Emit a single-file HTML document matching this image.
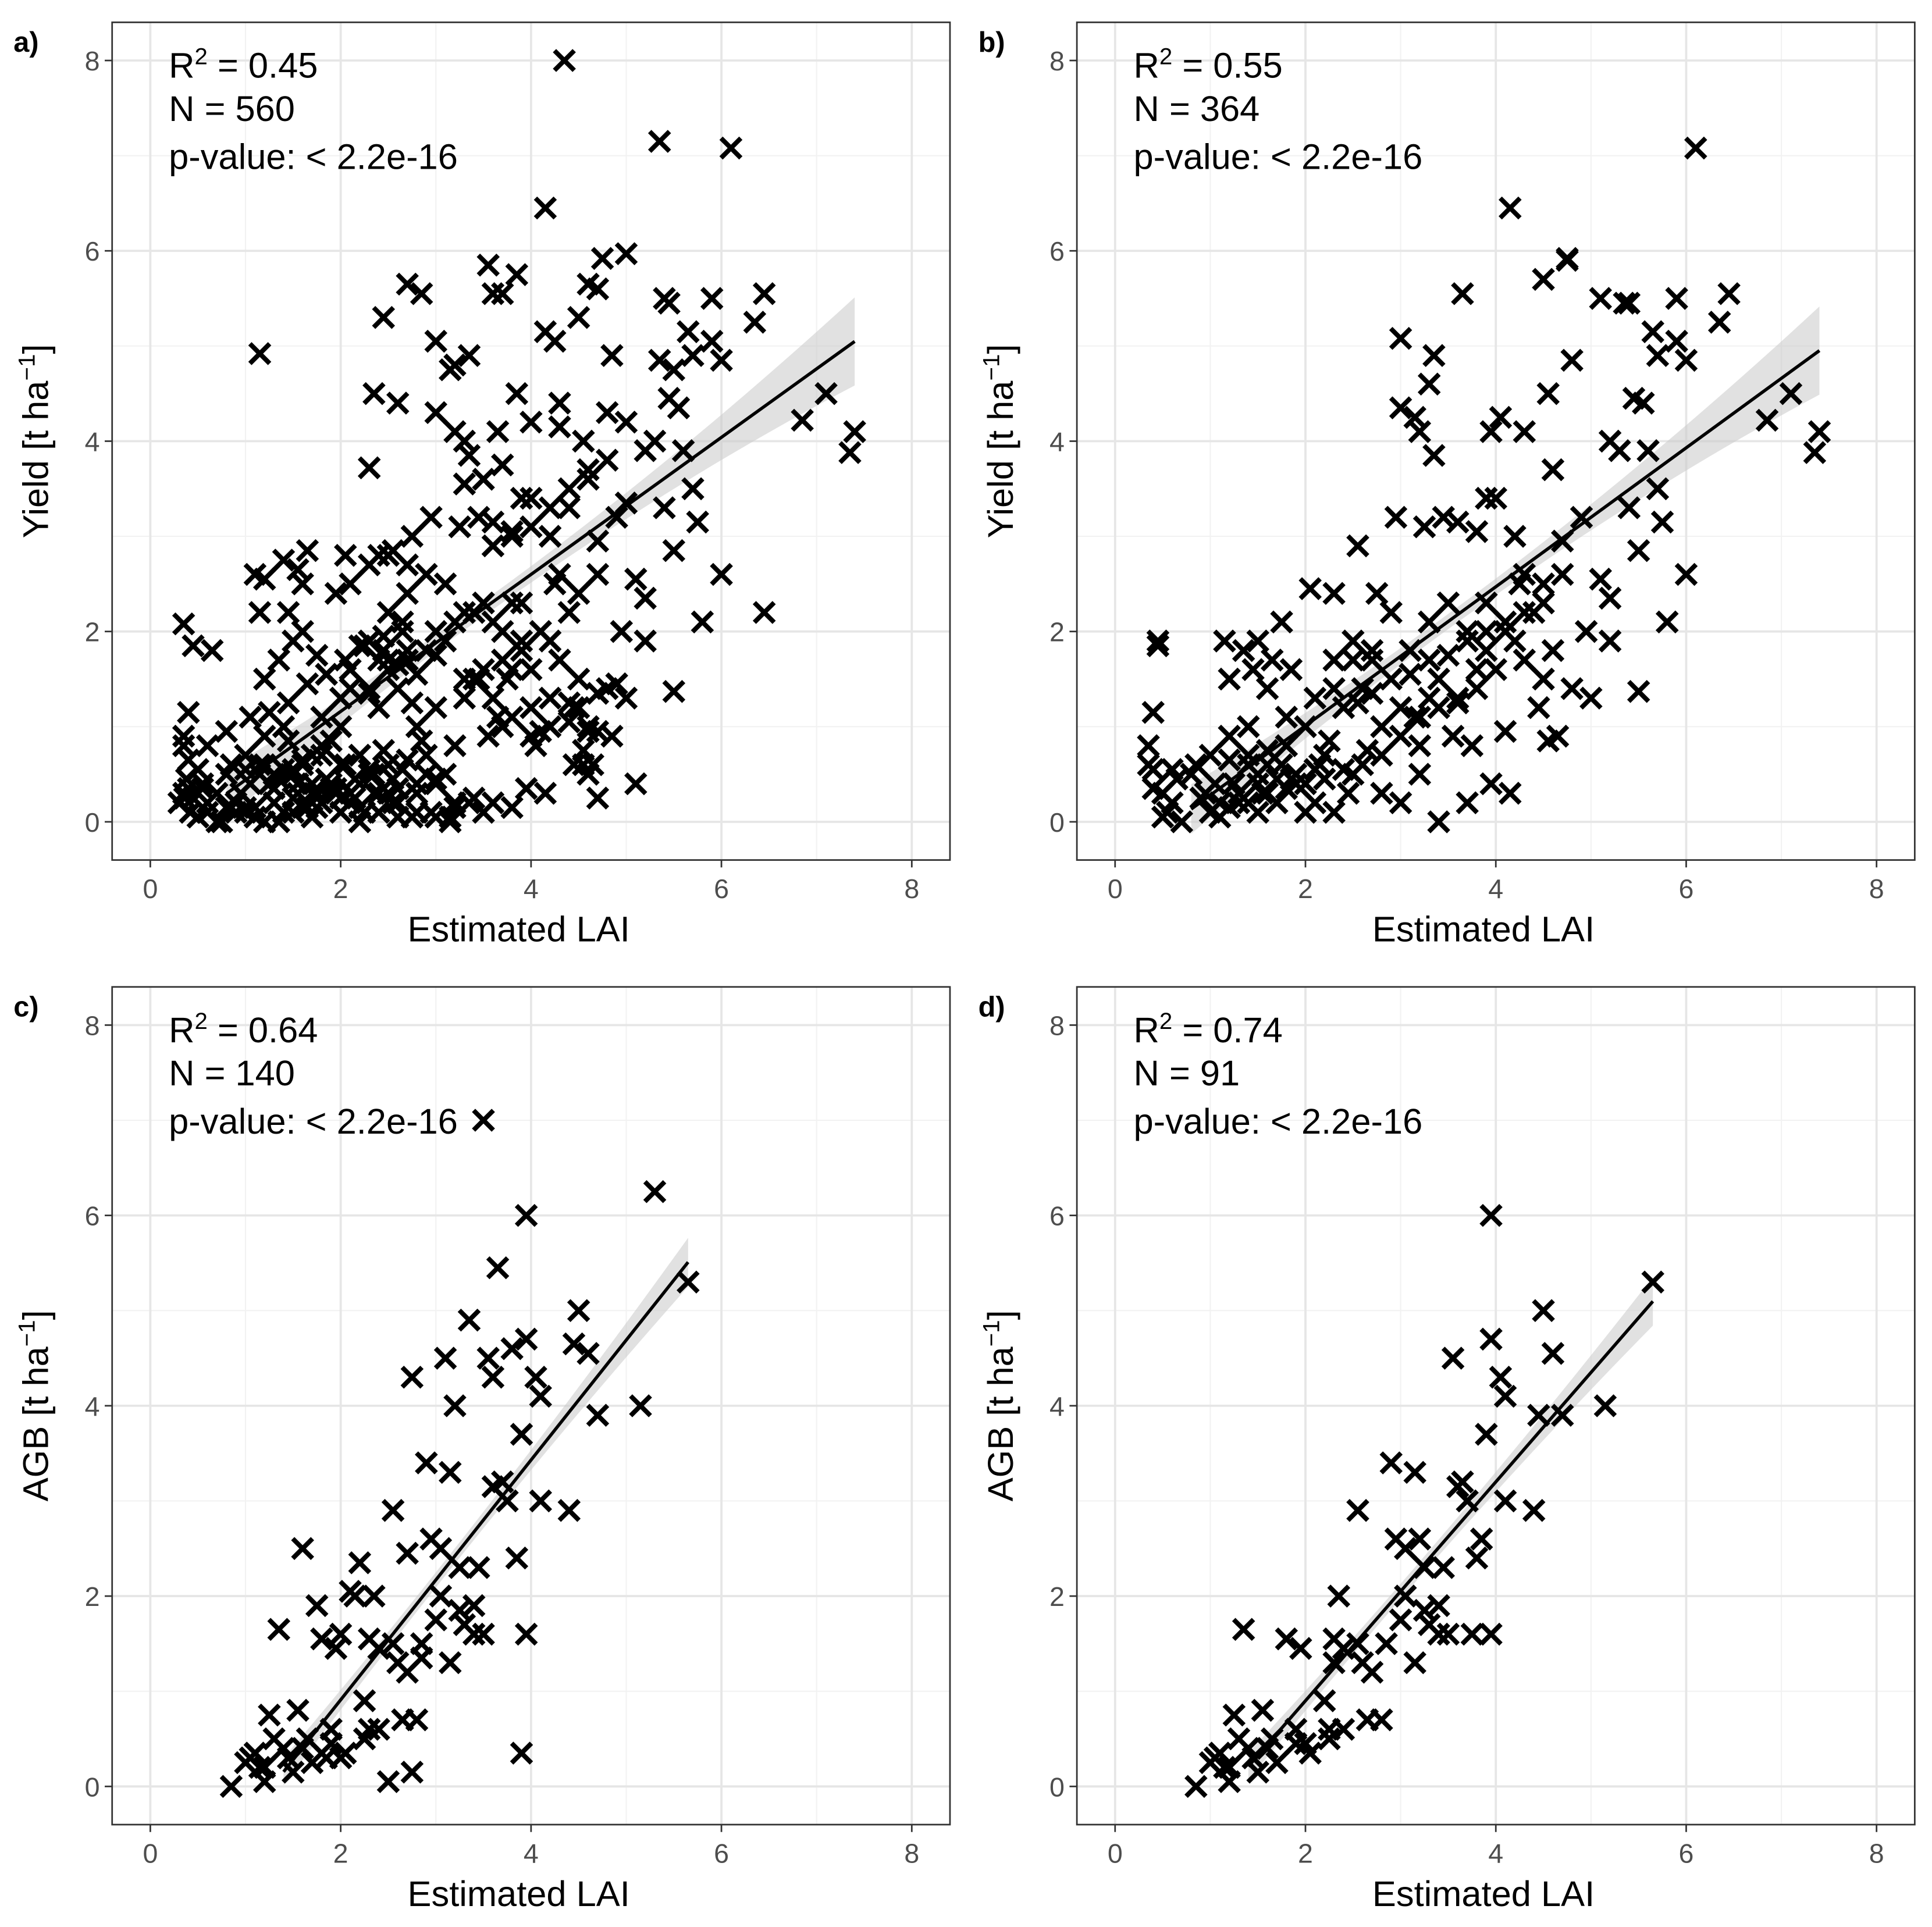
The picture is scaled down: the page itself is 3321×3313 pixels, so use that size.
<!DOCTYPE html>
<html><head><meta charset="utf-8"><style>
html,body{margin:0;padding:0;background:#fff;}
svg{display:block;}
text{font-family:"Liberation Sans",Arial,sans-serif;}
</style></head><body>
<svg id="fig" xmlns="http://www.w3.org/2000/svg" width="3321" height="3313" viewBox="0 0 1568 1564"></svg>
<script>
const xTicks=[0,2,4,6,8];
const yTicks=[0,2,4,6,8];
// Panel a
const aLai=[4.35,5.35,6.1,4.15,1.15,7.1,6.85,7.4,7.35,6.45,6.0,5.8,5.5,4.7,2.3,3.55,3.6,3.7,3.85,2.7,2.85,2.45,3.0,4.75,5.0,4.6,4.7,5.4,5.45,5.9,6.45,6.35,5.9,6.0,5.65,5.7,4.15,4.25,4.5,5.35,5.5,4.85,2.35,2.6,3.15,3.2,3.35,3.0,3.2,3.3,3.35,3.65,3.85,4.0,4.3,4.3,4.55,4.4,4.8,5.0,5.2,5.3,5.6,5.45,5.55,5.7,5.75,5.4,5.5,5.1,5.2,4.9,4.6,4.7,4.5,4.25,4.2,3.9,4.0,3.8,3.6,3.45,3.25,2.95,2.75,2.55,2.4,2.05,1.95,1.65,1.55,1.1,1.2,1.45,1.6,1.15,1.2,1.35,1.5,1.75,1.85,2.1,2.3,2.5,2.7,2.9,3.1,3.3,3.5,3.7,3.9,4.1,4.3,4.5,4.6,4.55,4.1,3.95,3.8,3.5,3.2,3.0,2.8,2.5,2.3,2.1,1.9,1.7,1.5,1.3,1.1,0.95,0.8,0.6,0.5,0.4,0.35,0.4,0.35,0.4,0.45,0.35,0.65,0.3,0.7,1.0,1.2,1.4,1.6,1.8,2.0,2.2,2.4,2.6,2.8,3.0,3.2,3.4,3.6,3.8,4.0,4.2,4.4,4.8,5.0,4.95,5.2,2.2,2.6,1.5,1.7,2.0,1.25,1.0,0.85,2.5,2.7,3.0,3.3,3.9,4.3,4.7,3.7,3.1,2.3,2.0,1.8,0.9,1.05,1.35,1.55,1.65,1.85,2.05,2.15,2.35,2.45,2.65,2.85,0.5,0.6,0.75,0.45,0.55,1.15,1.45,1.75,1.95,2.25,2.55,2.75,3.35,3.55,3.45,3.65,2.9,3.15,4.45,4.65,4.85,4.15,4.05,3.75,2.45,2.65,1.6,1.4,4.45,4.55,4.6,4.7,
0.35,0.38,0.42,0.36,0.55,0.7,0.9,1.1,1.3,1.5,1.7,1.9,2.1,2.3,2.5,2.7,2.9,1.0,1.2,1.4,1.6,1.8,2.0,2.2,2.4,2.6,2.8,3.0,1.15,1.35,1.55,1.75,1.95,2.15,2.35,2.55,2.75,2.95,3.15,0.8,1.0,1.2,1.4,1.6,1.8,2.0,2.2,2.4,2.6,2.8,3.0,3.2,3.4,3.6,3.8,4.0,4.2,4.4,2.1,2.3,2.5,2.7,2.9,3.1,3.3,3.5,3.7,3.9,2.2,2.4,2.6,2.8,3.0,3.2,3.4,3.6,3.8,4.0,4.2,4.4,4.6,1.9,2.1,2.3,2.5,2.7,3.6,3.8,4.0,4.2,4.4,4.6,4.8,5.0,3.3,3.5,3.7,4.5,4.7,4.9,5.1,1.3,1.5,1.7,0.6,0.8,1.05,1.25,1.45,1.65,1.85,2.05,2.25,2.45,2.65,2.85,3.05,3.25,3.45];
const aYield=[8.0,7.15,7.08,6.45,4.92,4.5,4.22,4.1,3.88,2.2,2.6,2.1,1.37,0.25,3.72,5.85,5.55,5.55,5.75,5.65,5.55,5.3,5.05,5.92,5.97,5.65,5.6,5.5,5.45,5.5,5.55,5.25,5.05,4.85,5.15,4.9,5.15,5.05,5.3,4.85,4.75,4.9,4.5,4.4,4.75,4.8,4.9,4.3,4.1,4.0,3.85,4.1,4.5,4.2,4.4,4.15,4.0,3.3,4.3,4.2,3.9,4.0,3.9,4.45,4.35,3.5,3.15,3.3,2.85,2.55,2.35,3.2,3.7,2.6,2.4,2.5,3.0,3.4,3.4,3.05,3.15,3.2,3.1,3.2,3.0,2.85,2.8,2.8,2.4,2.85,2.65,2.6,2.55,2.2,2.0,2.2,1.5,1.7,1.9,1.75,1.55,1.6,1.9,2.2,2.4,2.6,2.5,2.2,2.3,2.0,1.8,2.0,1.7,1.5,1.0,0.6,0.95,0.35,0.15,0.1,0.2,0.4,0.1,0.3,0.5,0.2,0.4,0.3,0.1,0.2,0.05,0.3,0.5,0.2,0.05,0.35,0.8,0.65,0.9,1.15,1.85,2.08,1.8,0.2,0.0,0.7,0.9,1.0,0.6,0.8,1.0,0.7,1.2,1.4,1.0,1.2,0.8,1.5,1.3,1.6,1.6,1.9,2.2,1.4,1.3,2.0,1.9,0.0,0.05,0.5,0.05,0.1,0.4,0.15,0.6,1.7,1.8,2.0,1.3,2.3,2.6,2.95,1.0,0.5,1.4,1.3,1.1,0.1,0.4,0.0,0.3,0.15,0.45,0.6,0.25,0.3,0.75,0.55,0.85,0.55,0.1,0.0,0.25,0.4,0.6,0.85,0.15,0.3,0.1,0.45,1.25,0.2,0.9,1.5,1.1,0.7,0.0,1.2,0.6,0.9,0.3,0.8,1.5,1.8,2.0,2.5,2.75,
0.6,0.75,0.5,0.95,0.3,0.45,0.1,0.25,0.35,0.3,0.2,0.15,0.35,0.25,0.4,0.35,0.3,0.55,0.6,0.65,0.5,0.55,0.6,0.55,0.65,0.7,0.6,0.7,0.3,0.35,0.4,0.45,0.5,0.45,0.4,0.3,0.35,0.45,0.5,0.2,0.05,0.1,0.05,0.15,0.1,0.0,0.1,0.15,0.2,0.25,0.15,0.1,0.2,0.3,0.05,0.15,0.25,0.2,1.1,1.2,1.3,1.25,1.4,1.35,1.6,1.7,1.8,1.9,1.5,1.6,1.7,1.9,1.85,1.7,1.65,1.55,1.75,2.1,2.2,2.1,2.3,0.9,1.0,1.05,0.95,0.85,2.5,2.7,2.8,2.7,2.9,3.0,3.1,3.3,3.5,3.6,3.8,3.35,3.55,3.6,3.75,1.2,1.35,1.45,0.4,0.5,0.55,0.7,0.8,0.95,1.1,1.15,1.25,1.45,1.55,1.7,1.85,1.95,2.1];
// Panel b
const bLai=[6.1,4.15,7.1,6.85,7.4,7.35,6.0,5.8,5.5,3.65,4.75,4.75,4.5,5.1,5.35,5.4,5.9,6.45,6.35,5.9,6.0,5.65,5.7,3.0,3.0,3.15,3.2,3.35,3.3,3.35,3.95,4.05,4.3,4.55,4.8,5.2,5.3,5.6,5.45,5.55,5.7,5.75,5.4,5.5,5.1,5.2,4.9,4.6,4.7,4.5,4.25,4.2,3.9,4.0,3.8,3.6,3.45,3.25,2.95,2.75,2.55,2.3,2.05,1.75,1.65,1.5,1.35,1.2,1.15,1.45,1.6,1.85,2.1,2.3,2.5,2.7,2.9,3.1,3.3,3.5,3.7,3.9,4.1,4.3,4.5,4.55,4.1,3.95,3.7,3.4,3.2,3.0,2.8,2.5,2.3,2.1,1.9,1.7,1.5,1.3,1.1,0.95,0.8,0.6,0.5,0.4,0.35,0.45,0.45,0.4,0.7,1.0,1.2,1.4,1.6,1.8,2.0,2.2,2.4,2.6,2.8,3.0,3.2,3.4,3.6,3.8,4.0,4.2,4.4,4.8,5.0,4.95,5.2,1.5,2.0,1.25,0.85,2.5,2.7,3.3,3.9,4.3,4.7,2.3,1.8,1.05,1.55,1.85,2.15,2.45,2.65,0.6,0.55,1.75,2.25,2.55,3.55,3.15,4.45,4.65,4.15,3.75,1.4,4.6,
0.35,0.4,0.5,0.65,0.9,1.1,1.3,1.5,1.7,1.9,2.1,1.0,1.2,1.4,1.6,1.8,2.0,2.2,2.4,2.6,2.8,3.0,3.2,3.4,3.6,3.8,2.7,2.9,3.1,3.3,3.5,3.7,3.9,4.1,4.3,4.5,1.2,1.4,1.6,1.8];
const bYield=[7.08,6.45,4.5,4.22,4.1,3.88,2.6,2.1,1.37,5.55,5.92,5.9,5.7,5.5,5.45,5.45,5.5,5.55,5.25,5.05,4.85,5.15,4.9,5.08,4.35,4.25,4.1,4.9,4.6,3.85,4.1,4.25,4.1,4.5,4.85,4.0,3.9,3.9,4.45,4.4,3.5,3.15,3.3,2.85,2.55,2.35,3.2,3.7,2.6,2.5,2.5,3.0,3.4,3.4,3.05,3.15,3.2,3.1,3.2,2.4,2.9,2.4,2.45,2.1,1.7,1.9,1.8,1.5,1.9,1.6,1.4,1.6,1.3,1.7,1.9,1.7,2.2,1.8,2.1,2.3,2.0,1.8,2.0,1.7,1.5,0.85,0.95,0.4,0.2,0.0,0.5,0.2,0.3,0.5,0.1,0.2,0.4,0.2,0.1,0.2,0.05,0.3,0.5,0.2,0.05,0.35,0.8,1.85,1.9,1.15,0.0,0.7,0.9,0.6,0.6,0.8,1.0,0.7,1.2,1.4,1.0,1.2,0.8,1.5,1.3,1.6,1.6,1.9,2.2,1.4,1.3,2.0,1.9,0.5,0.1,0.4,0.6,1.7,1.8,1.3,2.3,2.6,2.95,1.4,1.1,0.4,0.3,0.45,0.6,0.3,0.75,0.55,0.1,0.6,0.85,1.25,0.9,1.1,1.2,0.9,0.3,0.8,1.0,1.8,
0.6,0.55,0.3,0.45,0.25,0.2,0.3,0.4,0.45,0.5,0.55,0.1,0.15,0.2,0.3,0.35,0.4,0.45,0.55,0.6,0.7,0.9,1.1,1.2,1.25,1.4,1.35,1.5,1.55,1.7,1.75,1.9,2.0,2.1,2.2,2.3,0.65,0.7,0.75,0.8];
// Panel c
const cLai=[0.85,1.0,1.1,1.2,1.25,1.2,1.3,1.35,1.4,1.5,1.55,1.6,1.65,1.75,1.8,1.85,1.9,1.95,2.0,2.05,2.1,2.15,2.2,2.25,2.3,2.3,2.35,2.4,2.5,2.55,2.6,2.65,2.7,2.75,2.8,2.75,2.85,2.9,2.95,3.0,3.05,3.1,3.15,3.2,3.15,3.25,3.3,3.35,3.4,3.45,3.5,3.55,3.6,3.65,3.7,3.75,3.8,3.85,3.9,3.9,3.95,3.95,3.95,4.05,4.1,4.1,4.4,4.45,4.5,4.6,4.7,5.15,5.3,5.65,3.4,3.5,2.0,1.7,2.25,1.45,3.05,2.55,2.7,1.15,1.05,1.6,1.9,2.4,2.85,3.25,3.6];
const cAgb=[0.0,0.25,0.35,0.2,0.75,0.05,0.5,1.65,0.4,0.15,0.8,2.5,0.5,1.9,1.55,0.3,0.6,1.45,1.6,0.35,2.05,2.0,2.35,0.9,0.6,1.55,2.0,1.45,0.05,2.9,1.3,0.7,2.45,4.3,0.7,0.15,1.5,3.4,2.6,1.75,2.5,4.5,3.3,4.0,1.3,2.3,1.7,4.9,1.9,2.3,7.0,4.5,4.3,5.45,3.2,3.0,4.6,2.4,3.7,0.35,6.0,4.7,1.6,4.3,3.0,4.1,2.9,4.65,5.0,4.55,3.9,4.0,6.25,5.3,1.6,1.6,0.3,0.25,0.5,0.3,2.0,1.5,1.2,0.2,0.3,0.4,0.45,0.6,1.35,1.85,3.15];
// Panel d
const dLai=[0.85,1.0,1.1,1.2,1.25,1.2,1.3,1.35,1.4,1.5,1.55,1.65,1.8,1.9,1.95,2.0,2.05,2.2,2.25,2.3,2.3,2.35,2.4,2.55,2.6,2.65,2.8,2.85,2.9,2.95,3.0,3.05,3.15,3.2,3.15,3.25,3.3,3.4,3.45,3.55,3.65,3.7,3.75,3.8,3.85,3.9,3.95,3.95,3.95,4.05,4.1,4.1,4.4,4.45,4.5,4.6,4.7,5.15,5.65,3.4,3.5,1.7,2.25,1.45,3.05,2.55,2.7,1.15,1.05,1.6,1.9,2.4,3.25,3.6];
const dAgb=[0.0,0.25,0.35,0.2,0.75,0.05,0.5,1.65,0.4,0.15,0.8,0.5,1.55,0.6,1.45,0.45,0.35,0.9,0.6,1.55,1.3,2.0,1.45,2.9,1.3,0.7,0.7,1.5,3.4,2.6,1.75,2.5,3.3,2.6,1.3,2.3,1.7,1.9,2.3,4.5,3.2,3.0,1.6,2.4,2.6,3.7,6.0,4.7,1.6,4.3,3.0,4.1,2.9,3.9,5.0,4.55,3.9,4.0,5.3,1.6,1.6,0.25,0.5,0.3,2.0,1.5,1.2,0.2,0.3,0.4,0.45,0.6,1.85,3.15];
const fitA=[0.72,-0.28,0.8,7.4];
const fitB=[0.73,-0.45,0.8,7.4];
const fitC=[1.26,-1.61,1.4,5.65];
const fitD=[1.15,-1.4,1.4,5.65];

const NS='http://www.w3.org/2000/svg';
const svg=document.getElementById('fig');
function el(tag,attrs,parent,txt){const e=document.createElementNS(NS,tag);for(const k in attrs)e.setAttribute(k,attrs[k]);if(txt!==undefined)e.textContent=txt;(parent||svg).appendChild(e);return e;}

function panel(id,left,top,label,ytitle,lai,vals,fit,r2,n){
  const L=left,T=top,W=680,H=680;
  const x0=L+31,y0=T+649,u=77.25;
  const sx=v=>x0+v*u, sy=v=>y0-v*u;
  const g=el('g',{},svg);
  
  
  for(let v=1;v<=7;v+=2){el('line',{x1:sx(v),x2:sx(v),y1:T,y2:T+H,stroke:'#f2f2f2','stroke-width':1},g);el('line',{x1:L,x2:L+W,y1:sy(v),y2:sy(v),stroke:'#f2f2f2','stroke-width':1},g);}
  xTicks.forEach(v=>{const l=el('line',{x1:sx(v),x2:sx(v),y1:T,y2:T+H,stroke:'#e6e6e6','stroke-width':1.8},g);});
  yTicks.forEach(v=>{const l=el('line',{x1:L,x2:L+W,y1:sy(v),y2:sy(v),stroke:'#e6e6e6','stroke-width':1.8},g);});
  const [m,b,xa,xb]=fit;const xm=(xa+xb)/2*0.85;
  const hw=x=>0.08+0.025*(x-xm)*(x-xm);
  let up=[],dn=[];
  for(let i=0;i<=40;i++){const x=xa+(xb-xa)*i/40;up.push(sx(x)+','+sy(m*x+b+hw(x)));dn.unshift(sx(x)+','+sy(m*x+b-hw(x)));}
  const rb=el('polygon',{points:up.concat(dn).join(' '),fill:'#c8c8c8','fill-opacity':0.55},g);
  
  for(let i=0;i<lai.length;i++){
    const cx=sx(lai[i]),cy=sy(vals[i]),d=8;
    const p=el('path',{d:`M${cx-d},${cy-d}L${cx+d},${cy+d}M${cx-d},${cy+d}L${cx+d},${cy-d}`,stroke:'#000','stroke-width':3.8,fill:'none'},g);
    
    
  }
  const fl=el('line',{x1:sx(xa),y1:sy(m*xa+b),x2:sx(xb),y2:sy(m*xb+b),stroke:'#000','stroke-width':2.6},g);
  
  const br=el('rect',{x:L,y:T,width:W,height:H,fill:'none',stroke:'#333','stroke-width':1.3},g);
  
  xTicks.forEach(v=>{el('line',{x1:sx(v),x2:sx(v),y1:T+H,y2:T+H+6,stroke:'#333','stroke-width':1.3},g);
    const t=el('text',{x:sx(v),y:T+H+31,'text-anchor':'middle','font-size':22,fill:'#4d4d4d'},g,String(v));
    });
  yTicks.forEach(v=>{el('line',{x1:L-6,x2:L,y1:sy(v),y2:sy(v),stroke:'#333','stroke-width':1.3},g);
    const t=el('text',{x:L-10,y:sy(v)+8,'text-anchor':'end','font-size':22,fill:'#4d4d4d'},g,String(v));
    });
  const xt=el('text',{x:L+W/2-10,y:T+H+66,'text-anchor':'middle','font-size':29,fill:'#000'},g,'Estimated LAI');
  
  const yt=el('text',{transform:`translate(${L-52},${T+H/2}) rotate(-90)`,'text-anchor':'middle','font-size':29,fill:'#000'},g);
  
  el('tspan',{},yt,ytitle+' [t ha');el('tspan',{dy:-11,'font-size':19},yt,'\u22121');el('tspan',{dy:11},yt,']');
  const pl=el('text',{x:L-80,y:T+24,'font-size':23,'font-weight':'bold',fill:'#000'},g,label);
  
  const an=el('text',{x:L+46,y:T+45,'font-size':29,fill:'#000'},g);
  
  el('tspan',{},an,'R');el('tspan',{dy:-11,'font-size':19},an,'2');el('tspan',{dy:11},an,' = '+r2);
  const nn=el('text',{x:L+46,y:T+80,'font-size':29,fill:'#000'},g,'N = '+n);
  
  const pv=el('text',{x:L+46,y:T+119,'font-size':29,fill:'#000'},g,'p-value: < 2.2e-16');
  
}
panel('a',91,18,'a)','Yield',aLai,aYield,fitA,'0.45',560);
panel('b',874,18,'b)','Yield',bLai,bYield,fitB,'0.55',364);
panel('c',91,801,'c)','AGB',cLai,cAgb,fitC,'0.64',140);
panel('d',874,801,'d)','AGB',dLai,dAgb,fitD,'0.74',91);
</script>
</body></html>
